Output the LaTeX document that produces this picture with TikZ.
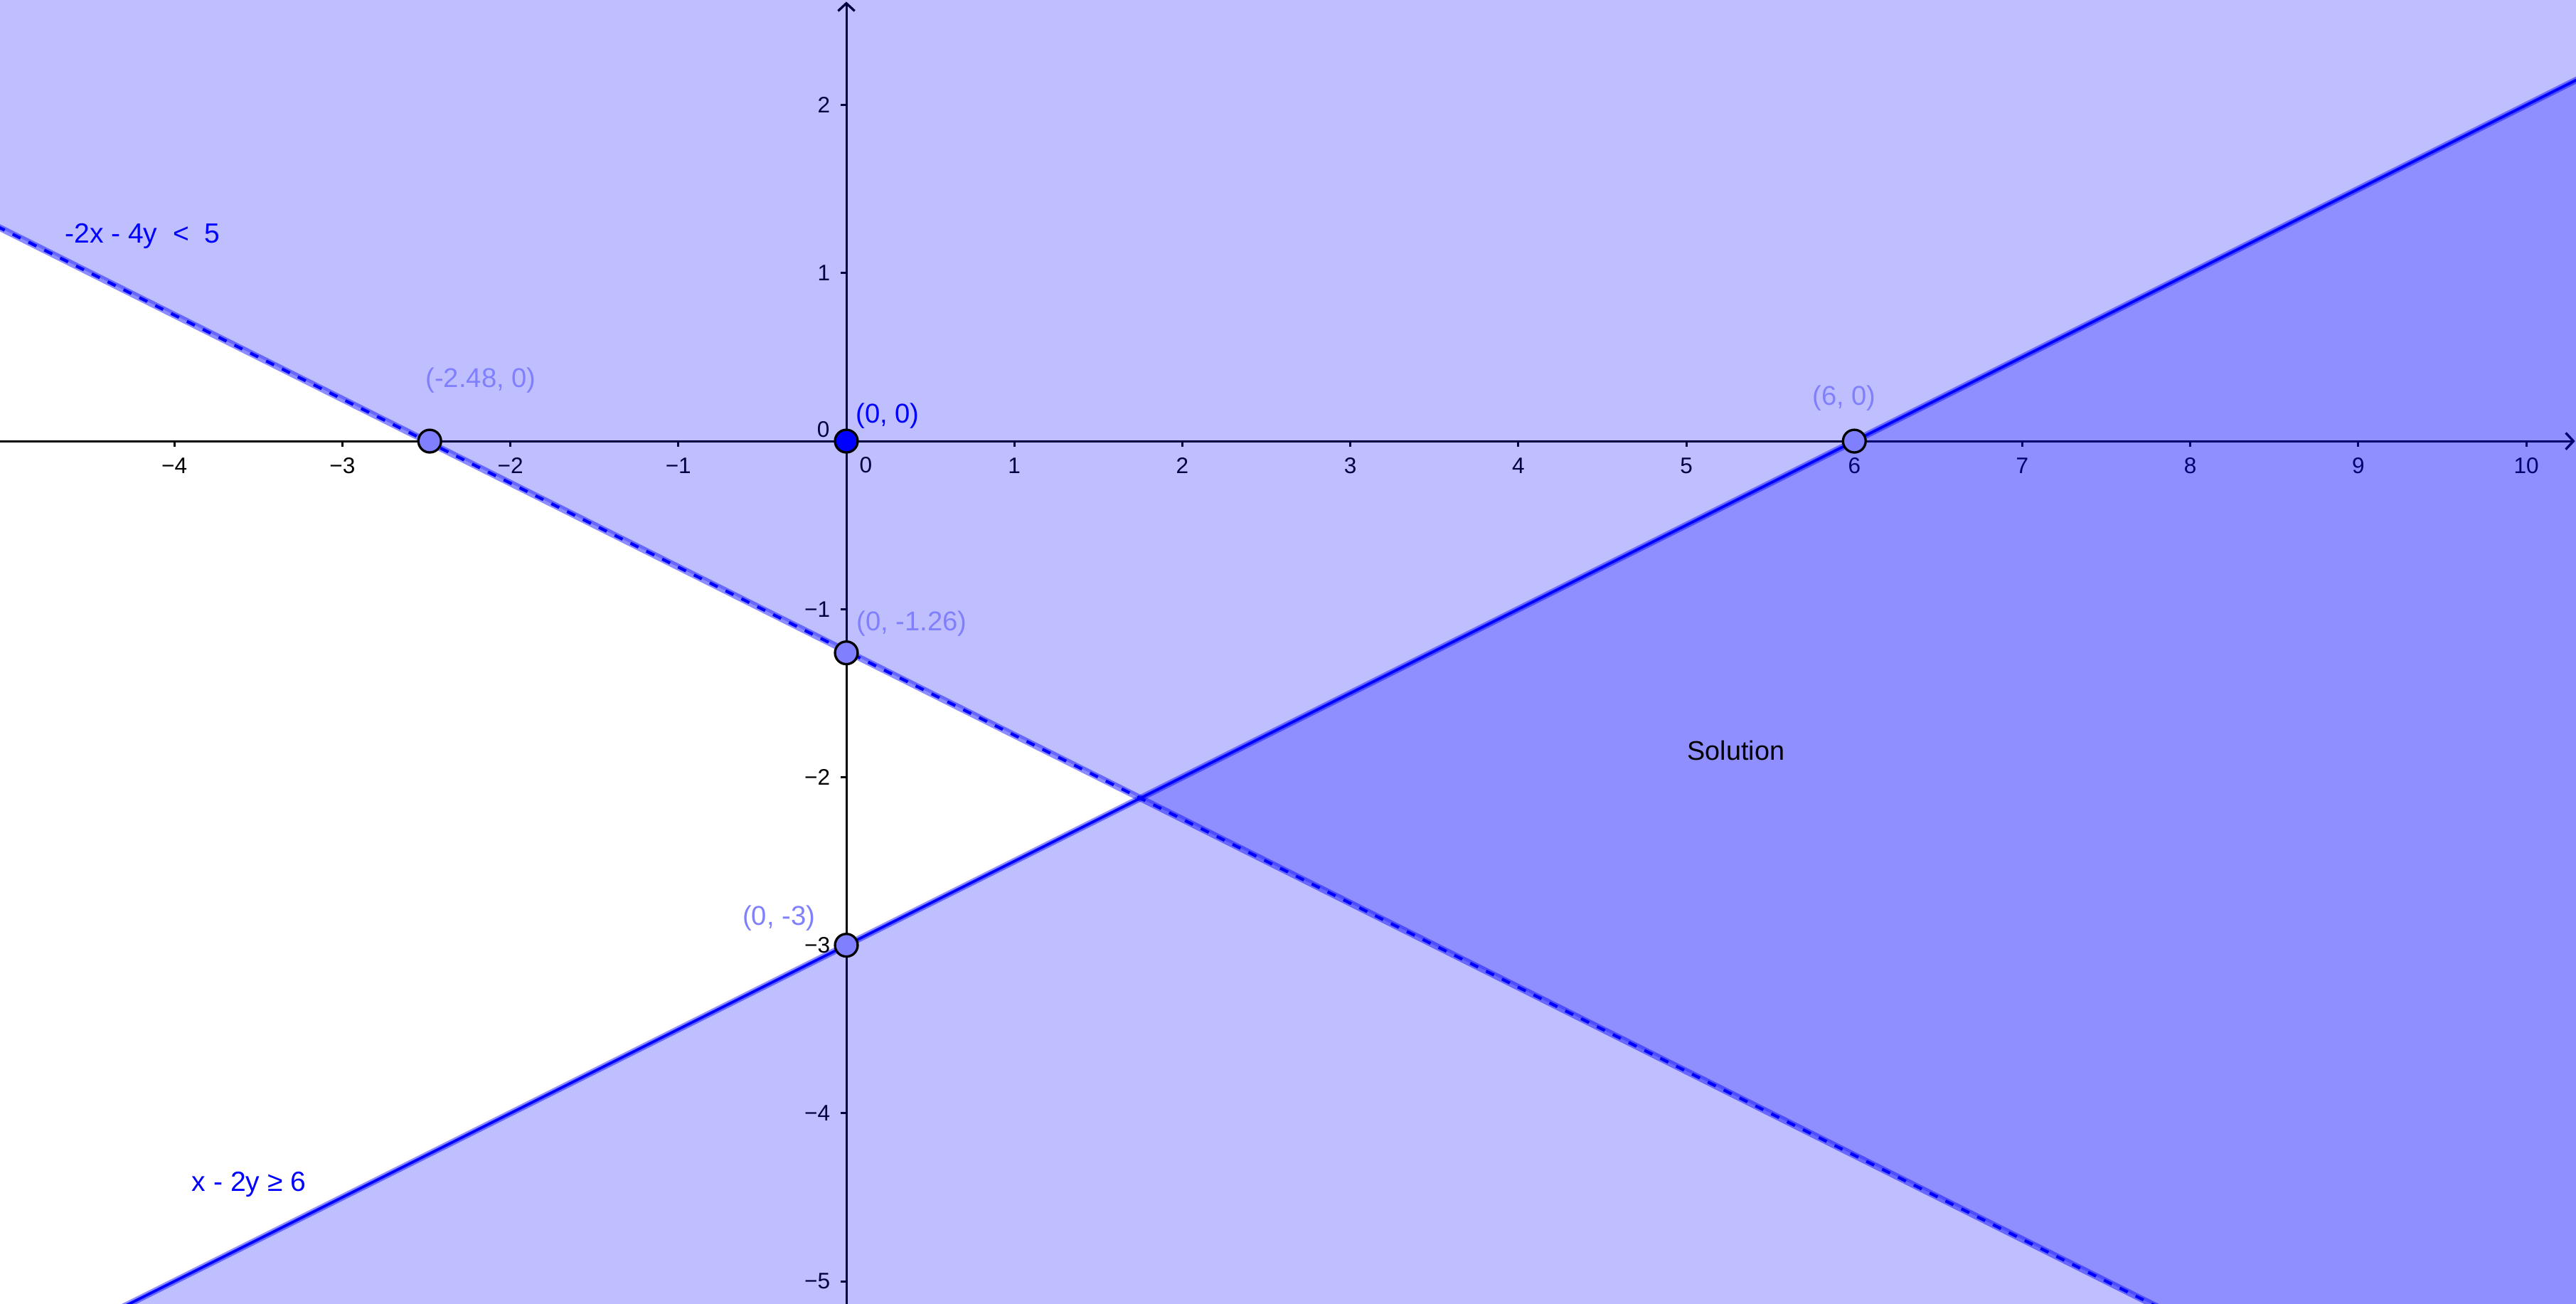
\documentclass[tikz,border=0pt]{standalone}
\usepackage{fontspec}
\setmainfont{Liberation Sans}
\usetikzlibrary{arrows.meta}
\definecolor{axiscol}{RGB}{0,0,0}
\definecolor{ptlight}{RGB}{128,128,255}
\definecolor{lblblue}{RGB}{0,0,255}
\tikzset{
  axisline/.style={draw=axiscol, line width=0.36pt},
  tickmark/.style={draw=axiscol, line width=0.36pt},
  ticklabel/.style={inner sep=0pt, font=\fontsize{3.8}{4.5}\selectfont, text=axiscol},
  region/.style={fill=blue, fill opacity=0.25, draw=none},
  halo/.style={draw=blue, draw opacity=0.45, line width=1.1pt},
  boundsolid/.style={draw=blue, line width=0.45pt},
  bounddash/.style={draw=blue, line width=0.5pt, dash pattern=on 1.5pt off 1.5pt},
  ptdark/.style={circle, draw=black, line width=0.4pt, fill=blue, minimum size=0.135cm, inner sep=0pt},
  ptsoft/.style={circle, draw=black, line width=0.4pt, fill=ptlight, minimum size=0.135cm, inner sep=0pt},
  ptlabel/.style={inner sep=0pt, font=\fontsize{4.6}{5.5}\selectfont, text=ptlight},
  eqlabel/.style={inner sep=0pt, font=\fontsize{4.7}{5.5}\selectfont, text=lblblue},
  sollabel/.style={inner sep=0pt, font=\fontsize{4.55}{5.5}\selectfont, text=black}
}
\begin{document}
\begin{tikzpicture}[x=1cm,y=1cm]
\useasboundingbox (-5.038,-5.135) rectangle (10.296,2.625);
\clip (-5.038,-5.135) rectangle (10.296,2.625);
\fill[white] (-5.038,-5.135) rectangle (10.296,2.625);

% axes
\coordinate (xl) at (-5.038,0);
\coordinate (xr) at (10.29,0);
\coordinate (yb) at (0,-5.135);
\coordinate (yt) at (0,2.615);
\draw[axisline, -{Straight Barb[length=1.3pt,width=2.8pt,line width=0.4pt]}] (xl) -- (xr);
\draw[axisline, -{Straight Barb[length=1.3pt,width=2.8pt,line width=0.4pt]}] (yb) -- (yt);
\foreach \k in {-4,-3,-2,-1,1,2,3,4,5,6,7,8,9,10}{
  \draw[tickmark] (\k,0) -- (\k,-0.034);
  \node[ticklabel] (xt\k) at (\k,-0.145) {\ifnum\k<0 −\the\numexpr-\k\relax\else\k\fi};
}
\node[ticklabel] (xt0) at (0.116,-0.144) {0};
\foreach \k in {-5,-4,-3,-2,-1,1,2}{
  \draw[tickmark] (0,\k) -- (-0.034,\k);
  \node[ticklabel, anchor=east] (yt\k) at (-0.09,\k) {\ifnum\k<0 −\the\numexpr-\k\relax\else\k\fi};
}
\node[ticklabel, anchor=east] (yt0) at (-0.093,0.068) {0};

% regions
\fill[region] (-6,1.75) -- (12,-7.25) -- (12,4) -- (-6,4) -- cycle;
\fill[region] (-6,-6) -- (12,3) -- (12,-7) -- (-6,-7) -- cycle;

% boundary lines
\coordinate (l1a) at (-6,1.75);
\coordinate (l1b) at (12,-7.25);
\coordinate (l2a) at (-6,-6);
\coordinate (l2b) at (12,3);
\draw[halo] (l1a) -- (l1b);
\draw[bounddash] (l1a) -- (l1b);
\draw[halo] (l2a) -- (l2b);
\draw[boundsolid] (l2a) -- (l2b);

% points
\node[ptdark] (p0) at (0,0) {};
\node[ptsoft] (pa) at (-2.48,0) {};
\node[ptsoft] (pb) at (0,-1.26) {};
\node[ptsoft] (pc) at (0,-3) {};
\node[ptsoft] (pd) at (6,0) {};

% labels
\node[ptlabel, text=lblblue] (lp0) at (0.246,0.148) {(0, 0)};
\node[ptlabel] (lpa) at (-2.176,0.36) {(-2.48, 0)};
\node[ptlabel] (lpb) at (0.389,-1.088) {(0, -1.26)};
\node[ptlabel] (lpc) at (-0.402,-2.837) {(0, -3)};
\node[ptlabel] (lpd) at (5.94,0.254) {(6, 0)};
\node[eqlabel] (eq1) at (-4.19,1.219) {-2x - 4y \ <\ \ 5};
\node[eqlabel] (eq2) at (-3.556,-4.424) {x - 2y ≥ 6};
\node[sollabel] (sol) at (5.296,-1.842) {Solution};
\end{tikzpicture}
\end{document}
